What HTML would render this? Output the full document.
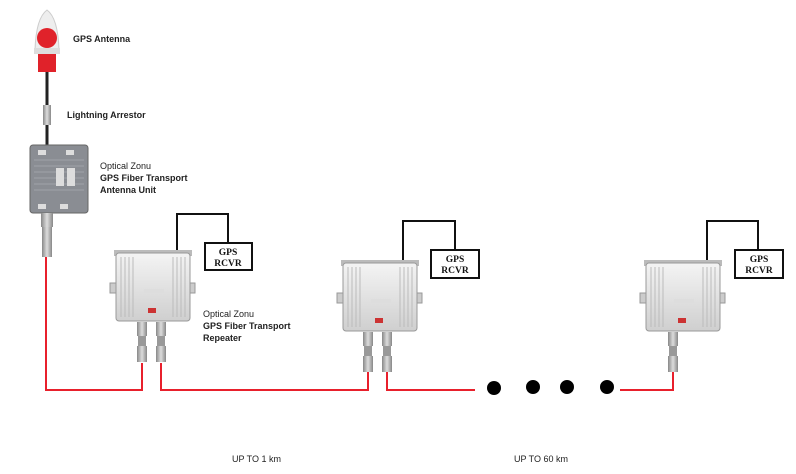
<!DOCTYPE html>
<html><head><meta charset="utf-8"><style>
html,body{margin:0;padding:0;background:#fff;}
svg{display:block;}
text{font-family:"Liberation Sans",sans-serif;}
text.s{font-family:"Liberation Serif",serif;}
</style></head><body>
<svg width="796" height="474" viewBox="0 0 796 474" xmlns="http://www.w3.org/2000/svg">
<defs>
<linearGradient id="box" x1="0" y1="0" x2="0" y2="1">
<stop offset="0" stop-color="#f4f4f4"/><stop offset="1" stop-color="#cfcfcf"/></linearGradient>
<linearGradient id="conn" x1="0" y1="0" x2="1" y2="0">
<stop offset="0" stop-color="#888"/><stop offset="0.5" stop-color="#ddd"/><stop offset="1" stop-color="#888"/></linearGradient>
<g id="rep">
<rect x="-2" y="-3" width="78" height="6" fill="#bbb"/>
<rect x="0" y="0" width="74" height="68" rx="3" fill="url(#box)" stroke="#999"/>
<g stroke="#bbb" stroke-width="1"><line x1="5" y1="4" x2="5" y2="64"/><line x1="9" y1="4" x2="9" y2="64"/><line x1="13" y1="4" x2="13" y2="64"/><line x1="17" y1="4" x2="17" y2="64"/>
<line x1="57" y1="4" x2="57" y2="64"/><line x1="61" y1="4" x2="61" y2="64"/><line x1="65" y1="4" x2="65" y2="64"/><line x1="69" y1="4" x2="69" y2="64"/></g>
<rect x="28" y="36" width="20" height="4" fill="#ddd"/>
<rect x="32" y="55" width="8" height="5" fill="#c33"/>
<rect x="-6" y="30" width="6" height="10" fill="#ccc" stroke="#999"/>
<rect x="74" y="30" width="5" height="10" fill="#ccc" stroke="#999"/>
</g>
<g id="cn">
<rect x="-5" y="0" width="10" height="14" fill="url(#conn)"/>
<rect x="-4" y="14" width="8" height="10" fill="#999"/>
<rect x="-5" y="24" width="10" height="16" fill="url(#conn)"/>
</g>
</defs>

<line x1="47" y1="70" x2="47" y2="145" stroke="#222" stroke-width="3"/>
<path d="M35 50 Q36 18 47 10 Q58 18 59 50 Z" fill="#eee" stroke="#ccc"/>
<circle cx="47" cy="38" r="10" fill="#e0222a"/>
<rect x="34" y="48" width="26" height="6" fill="#ddd"/>
<rect x="38" y="54" width="18" height="18" fill="#e0222a"/>
<rect x="43" y="105" width="8" height="20" fill="url(#conn)"/>
<text x="73" y="42" font-size="9" font-weight="bold" fill="#222">GPS Antenna</text>
<text x="67" y="118" font-size="9" font-weight="bold" fill="#222">Lightning Arrestor</text>

<rect x="30" y="145" width="58" height="68" rx="3" fill="#8a8d93" stroke="#666"/>
<g stroke="#a0a3a8"><line x1="34" y1="160" x2="84" y2="160"/><line x1="34" y1="166" x2="84" y2="166"/><line x1="34" y1="172" x2="84" y2="172"/><line x1="34" y1="178" x2="84" y2="178"/><line x1="34" y1="184" x2="84" y2="184"/><line x1="34" y1="190" x2="84" y2="190"/></g>
<rect x="56" y="168" width="8" height="18" fill="#ddd"/><rect x="67" y="168" width="8" height="18" fill="#ddd"/>
<rect x="38" y="150" width="8" height="5" fill="#ddd"/><rect x="66" y="150" width="8" height="5" fill="#ddd"/>
<rect x="38" y="204" width="8" height="5" fill="#ddd"/><rect x="60" y="204" width="8" height="5" fill="#ddd"/>
<rect x="41" y="213" width="12" height="14" fill="url(#conn)"/>
<rect x="42" y="227" width="10" height="30" fill="url(#conn)"/>
<text x="100" y="169" font-size="9" fill="#222">Optical Zonu</text>
<text x="100" y="181" font-size="9" font-weight="bold" fill="#222">GPS Fiber Transport</text>
<text x="100" y="193" font-size="9" font-weight="bold" fill="#222">Antenna Unit</text>

<g stroke="#e8202c" stroke-width="2" fill="none">
<polyline points="46,257 46,390 142,390 142,363"/>
<polyline points="161,363 161,390 368,390 368,372"/>
<polyline points="387,372 387,390 475,390"/>
<polyline points="620,390 673,390 673,372"/>
</g>
<g fill="#000"><circle cx="494" cy="388" r="7"/><circle cx="533" cy="387" r="7"/><circle cx="567" cy="387" r="7"/><circle cx="607" cy="387" r="7"/></g>

<g stroke="#111" stroke-width="2" fill="none">
<polyline points="177,253 177,214 228,214 228,243"/>
<polyline points="403,262 403,221 455,221 455,250"/>
<polyline points="707,262 707,221 758,221 758,250"/>
</g>

<use href="#rep" x="116" y="253"/>
<use href="#cn" x="142" y="322"/><use href="#cn" x="161" y="322"/>
<use href="#rep" x="343" y="263"/>
<use href="#cn" x="368" y="332"/><use href="#cn" x="387" y="332"/>
<use href="#rep" x="646" y="263"/>
<use href="#cn" x="673" y="332"/>

<text x="203" y="317" font-size="9" fill="#222">Optical Zonu</text>
<text x="203" y="329" font-size="9" font-weight="bold" fill="#222">GPS Fiber Transport</text>
<text x="203" y="341" font-size="9" font-weight="bold" fill="#222">Repeater</text>

<g fill="#fff" stroke="#111" stroke-width="2">
<rect x="205" y="243" width="47" height="27"/>
<rect x="431" y="250" width="48" height="28"/>
<rect x="735" y="250" width="48" height="28"/>
</g>
<g font-size="9.5" font-weight="bold" fill="#111" text-anchor="middle">
<text class="s" x="228" y="255">GPS</text><text class="s" x="228" y="266">RCVR</text>
<text class="s" x="455" y="262">GPS</text><text class="s" x="455" y="273">RCVR</text>
<text class="s" x="759" y="262">GPS</text><text class="s" x="759" y="273">RCVR</text>
</g>

<text x="232" y="462" font-size="9" fill="#222">UP TO 1 km</text>
<text x="514" y="462" font-size="9" fill="#222">UP TO 60 km</text>
</svg>
</body></html>
